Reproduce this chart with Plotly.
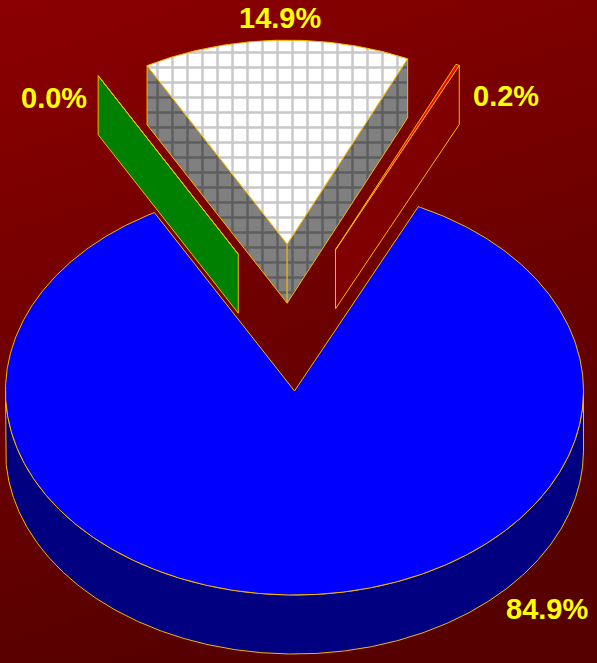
import base64
import numpy as np
import plotly.graph_objects as go

# ---- data ----
categories = ["Green", "White", "Red", "Blue"]
values = [0.0, 14.9, 0.2, 84.9]

# ---- per-slice styling ----
top_colors = ["#00ff00", "#ffffff", "#ff0000", "#0000ff"]
side_colors = ["#008000", "#808080", "#800000", "#000080"]
grid_colors = [None, ("#c8c8c8", "#5e5e5e"), None, None]
explode = [1.03, 0.95, 0.99, 0.0]
label_xy = [(54, 98), (280, 18), (506, 96), (547, 609)]

# ---- pie geometry (pixel units of the plotting area) ----
W, H = 597, 663
CX, CY = 294.5, 391.0
RX, RY = 289.0, 204.0
DEPTH = 59.0
START = 331.0
EXP_X, EXP_Y = 106.0, 155.0
EXPLODE_TURN = -2.0
EDGE = "#f5b800"


def point(theta, r, ox, oy, z):
    t = np.radians(theta)
    return CX + ox + r * RX * np.sin(t), CY + oy - r * RY * np.cos(t) + z


def arc(t0, t1, ox, oy, z):
    n = max(2, int(abs(t1 - t0) * 2) + 2)
    th = np.linspace(t0, t1, n)
    xs, ys = point(th, 1.0, ox, oy, z)
    return list(xs), list(ys)


def pattern(bg, fg):
    return dict(shape="+", size=15, solidity=0.3, bgcolor=bg, fgcolor=fg,
                fillmode="replace")


fig = go.Figure()


def add_poly(xs, ys, fill, pat=None):
    kw = {}
    if pat is not None:
        kw["fillpattern"] = pat
    fig.add_trace(go.Scatter(
        x=xs + [xs[0]], y=ys + [ys[0]], mode="lines", fill="toself",
        fillcolor=fill, line=dict(color=EDGE, width=1),
        hoverinfo="skip", showlegend=False, **kw))


total = float(sum(values))
bounds = START + 360.0 * np.concatenate([[0.0], np.cumsum(values)]) / total

slices = []
for i, v in enumerate(values):
    a0, a1 = bounds[i], bounds[i + 1]
    mid = np.radians((a0 + a1) / 2 + EXPLODE_TURN)
    ox = explode[i] * EXP_X * np.sin(mid)
    oy = -explode[i] * EXP_Y * np.cos(mid)
    slices.append((i, a0, a1, ox, oy))

# paint the slices lying further back first
slices.sort(key=lambda s: s[4])

for i, a0, a1, ox, oy in slices:
    g = grid_colors[i]
    side_pat = pattern(side_colors[i], g[1]) if g else None
    top_pat = pattern(top_colors[i], g[0]) if g else None

    # radial faces turned toward the viewer
    faces = []
    if np.sin(np.radians(a0)) < 0:
        faces.append(a0)
    if np.sin(np.radians(a1)) > 0:
        faces.append(a1)
    for a in faces:
        cx0, cy0 = point(a, 0.0, ox, oy, 0)
        ex0, ey0 = point(a, 1.0, ox, oy, 0)
        add_poly([cx0, ex0, ex0, cx0],
                 [cy0, ey0, ey0 + DEPTH, cy0 + DEPTH],
                 side_colors[i], side_pat)

    # front part of the outer rim
    b0 = a0 % 360.0
    b1 = b0 + (a1 - a0)
    for lo, hi in ((90.0, 270.0), (450.0, 630.0)):
        s, e = max(b0, lo), min(b1, hi)
        if e > s:
            tx, ty = arc(s, e, ox, oy, 0)
            bx, by = arc(e, s, ox, oy, DEPTH)
            add_poly(tx + bx, ty + by, side_colors[i], side_pat)

    # top face
    cx0, cy0 = point(a0, 0.0, ox, oy, 0)
    tx, ty = arc(a0, a1, ox, oy, 0)
    add_poly([cx0] + tx, [cy0] + ty, top_colors[i], top_pat)

# percentage labels
for i, v in enumerate(values):
    fig.add_annotation(
        x=label_xy[i][0], y=label_xy[i][1], text=f"{v:.1f}%",
        showarrow=False, xanchor="center", yanchor="middle",
        font=dict(family="Liberation Sans", size=29, color="#ffff00",
                  weight="bold"))

# dark red gradient backdrop
svg = (
    "<svg xmlns='http://www.w3.org/2000/svg' width='597' height='663' "
    "preserveAspectRatio='none'><defs><linearGradient id='g' x1='0' y1='0' "
    "x2='0.3' y2='1'><stop offset='0' stop-color='#8c0000'/>"
    "<stop offset='1' stop-color='#560000'/></linearGradient></defs>"
    "<rect width='597' height='663' fill='url(#g)'/></svg>"
)
src = "data:image/svg+xml;base64," + base64.b64encode(svg.encode()).decode()

fig.update_layout(
    width=W, height=H, autosize=False,
    margin=dict(l=0, r=0, t=0, b=0, pad=0),
    paper_bgcolor="#700000", plot_bgcolor="rgba(0,0,0,0)",
    xaxis=dict(range=[0, W], visible=False, fixedrange=True),
    yaxis=dict(range=[H, 0], visible=False, fixedrange=True),
    images=[dict(source=src, xref="paper", yref="paper", x=0, y=1,
                 sizex=1, sizey=1, sizing="stretch", xanchor="left",
                 yanchor="top", layer="below")],
    showlegend=False,
)

fig.write_html("out.html")
